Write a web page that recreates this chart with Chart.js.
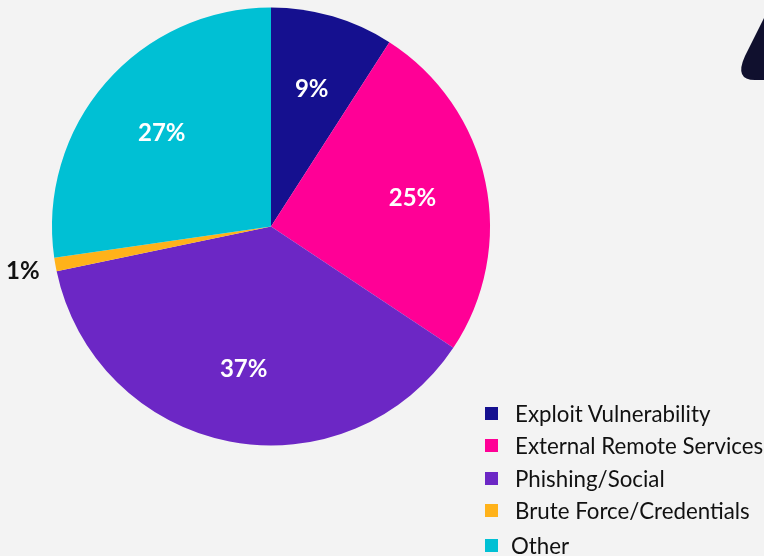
<!DOCTYPE html>
<html>
<head>
<meta charset="utf-8">
<script src="https://cdn.jsdelivr.net/npm/chart.js@4"></script>
<style>
    html, body { margin: 0; padding: 0; background: #f3f3f3; }
    #wrap { position: relative; width: 764px; height: 556px; overflow: hidden; font-family: Lato, sans-serif; }
    #legenda { position: absolute; left: 485px; top: 397px; font-size: 22.3px; color: #111; }
    #legenda div { display: flex; align-items: center; height: 32.5px; white-space: nowrap; }
    #legenda span.box { display: inline-block; width: 13px; height: 13px; margin-right: 17px; }
    #legenda div:last-child { margin-top: 2px; }
    #legenda div:last-child span.box { margin-right: 13px; }
</style>
</head>
<body>
<div id="wrap">
    <canvas id="chart-pizza" width="764" height="556"></canvas>
    <div id="legenda"></div>
</div>
<script>
// Dados do gráfico
const categorias = ['Exploit Vulnerability', 'External Remote Services', 'Phishing/Social', 'Brute Force/Credentials', 'Other'];
const valores = [9, 25, 37, 1, 27];
const cores = ['#15108f', '#ff0096', '#6c27c5', '#ffb21a', '#00c0d4'];

// Rótulos de porcentagem (dentro da fatia, ou fora quando pequena)
const pluginRotulos = {
    id: 'rotulos',
    afterDatasetsDraw(chart) {
        const ctx = chart.ctx;
        const meta = chart.getDatasetMeta(0);
        ctx.save();
        ctx.font = 'bold 24px Lato';
        ctx.textAlign = 'center';
        ctx.textBaseline = 'middle';
        meta.data.forEach((arc, i) => {
            const meio = (arc.startAngle + arc.endAngle) / 2;
            const pequeno = valores[i] < 3;
            const r = pequeno ? arc.outerRadius + 33 : arc.outerRadius * 0.66;
            const x = arc.x + Math.cos(meio) * r;
            const y = arc.y + Math.sin(meio) * r;
            ctx.fillStyle = pequeno ? '#111' : '#fff';
            ctx.fillText(valores[i] + '%', x, y + 1);
        });
        ctx.restore();
    }
};

// Forma decorativa no canto superior direito
const pluginForma = {
    id: 'forma',
    beforeDraw(chart) {
        const ctx = chart.ctx;
        ctx.save();
        ctx.fillStyle = '#10102e';
        ctx.beginPath();
        ctx.moveTo(764, 18);
        ctx.lineTo(745, 56);
        ctx.quadraticCurveTo(734, 80, 755, 80);
        ctx.lineTo(764, 80);
        ctx.closePath();
        ctx.fill();
        ctx.restore();
    }
};

const ctxPizza = document.getElementById('chart-pizza').getContext('2d');
new Chart(ctxPizza, {
    type: 'pie',
    data: {
        labels: categorias,
        datasets: [{
            data: valores,
            backgroundColor: cores,
            borderWidth: 0
        }]
    },
    options: {
        responsive: false,
        animation: false,
        layout: { padding: { top: 7, bottom: 110, left: 52, right: 274 } },
        plugins: {
            legend: { display: false },
            tooltip: { enabled: false }
        }
    },
    plugins: [pluginForma, pluginRotulos]
});

// Legenda em HTML
const legenda = document.getElementById('legenda');
categorias.forEach((nome, i) => {
    const linha = document.createElement('div');
    linha.innerHTML = `<span class="box" style="background:${cores[i]}"></span>${nome}`;
    legenda.appendChild(linha);
});
</script>
</body>
</html>
